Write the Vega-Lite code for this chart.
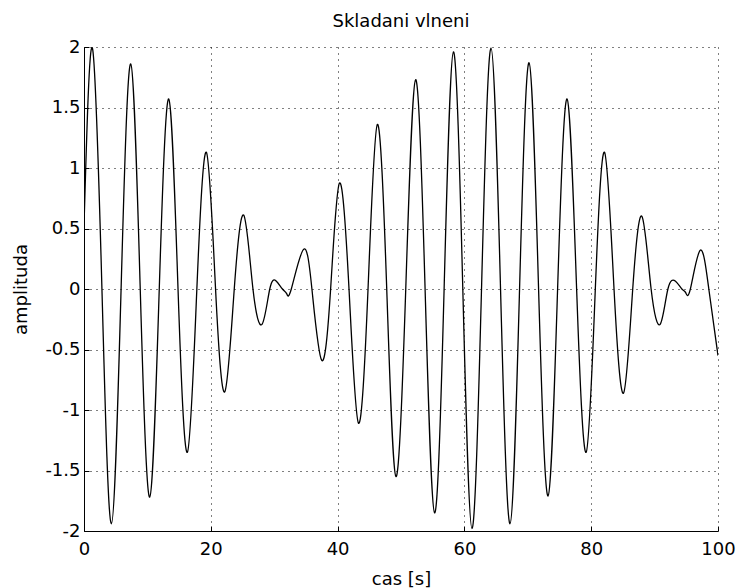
{
  "$schema": "https://vega.github.io/schema/vega-lite/v6.json",
  "width": 634,
  "height": 484,
  "autosize": {"type": "none"},
  "padding": {"left": 84, "top": 47, "right": 19, "bottom": 57},
  "background": "white",
  "config": {
    "view": {"stroke": null},
    "font": "DejaVu Sans",
    "axis": {
      "domainColor": "black",
      "domainWidth": 1,
      "tickColor": "black",
      "tickSize": -5,
      "tickWidth": 1,
      "grid": true,
      "gridColor": "black",
      "gridOpacity": 1,
      "gridDash": [1, 5],
      "gridWidth": 1,
      "labelFont": "DejaVu Sans",
      "labelFontSize": 18,
      "labelColor": "black",
      "labelFlush": false,
      "labelOverlap": false,
      "titleFont": "DejaVu Sans",
      "titleFontSize": 18,
      "titleFontWeight": "normal",
      "titleColor": "black"
    }
  },
  "title": {
    "text": "Skladani vlneni",
    "font": "DejaVu Sans",
    "fontSize": 18,
    "fontWeight": "normal",
    "color": "black",
    "offset": 7
  },
  "data": {
    "values": [
      {"t": 0, "y": 0.52},
      {"t": 1.33, "y": 1.99},
      {"t": 2.83, "y": 0},
      {"t": 4.32, "y": -1.94},
      {"t": 5.85, "y": 0},
      {"t": 7.37, "y": 1.86},
      {"t": 8.87, "y": 0},
      {"t": 10.37, "y": -1.72},
      {"t": 11.87, "y": 0},
      {"t": 13.37, "y": 1.57},
      {"t": 14.83, "y": 0},
      {"t": 16.3, "y": -1.35},
      {"t": 17.8, "y": 0},
      {"t": 19.3, "y": 1.13},
      {"t": 20.75, "y": 0},
      {"t": 22.2, "y": -0.85},
      {"t": 23.7, "y": 0},
      {"t": 25.2, "y": 0.61},
      {"t": 26.65, "y": 0},
      {"t": 28.1, "y": -0.29},
      {"t": 29.3, "y": 0},
      {"t": 30.3, "y": 0.066},
      {"t": 31.3, "y": 0},
      {"t": 31.96, "y": -0.038},
      {"t": 32.7, "y": 0},
      {"t": 34.6, "y": 0.326},
      {"t": 35.95, "y": 0},
      {"t": 37.5, "y": -0.59},
      {"t": 38.9, "y": 0},
      {"t": 40.3, "y": 0.876},
      {"t": 41.8, "y": 0},
      {"t": 43.3, "y": -1.11},
      {"t": 44.8, "y": 0},
      {"t": 46.27, "y": 1.36},
      {"t": 47.75, "y": 0},
      {"t": 49.2, "y": -1.55},
      {"t": 50.75, "y": 0},
      {"t": 52.3, "y": 1.73},
      {"t": 53.8, "y": 0},
      {"t": 55.3, "y": -1.85},
      {"t": 56.8, "y": 0},
      {"t": 58.27, "y": 1.96},
      {"t": 59.75, "y": 0},
      {"t": 61.2, "y": -1.98},
      {"t": 62.7, "y": 0},
      {"t": 64.2, "y": 1.99},
      {"t": 65.7, "y": 0},
      {"t": 67.2, "y": -1.94},
      {"t": 68.7, "y": 0},
      {"t": 70.2, "y": 1.87},
      {"t": 71.7, "y": 0},
      {"t": 73.2, "y": -1.71},
      {"t": 74.7, "y": 0},
      {"t": 76.2, "y": 1.57},
      {"t": 77.7, "y": 0},
      {"t": 79.2, "y": -1.35},
      {"t": 80.65, "y": 0},
      {"t": 82.1, "y": 1.13},
      {"t": 83.6, "y": 0},
      {"t": 85.1, "y": -0.86},
      {"t": 86.55, "y": 0},
      {"t": 88.0, "y": 0.6},
      {"t": 89.45, "y": 0},
      {"t": 90.9, "y": -0.29},
      {"t": 92.1, "y": 0},
      {"t": 93.3, "y": 0.064},
      {"t": 94.3, "y": 0},
      {"t": 94.9, "y": -0.03},
      {"t": 95.64, "y": 0},
      {"t": 97.2, "y": 0.32},
      {"t": 98.55, "y": 0},
      {"t": 100, "y": -0.55}
    ]
  },
  "mark": {"type": "line", "interpolate": "natural", "color": "black", "strokeWidth": 1.3, "clip": true},
  "encoding": {
    "x": {
      "field": "t",
      "type": "quantitative",
      "scale": {"domain": [0, 100], "nice": false, "zero": false},
      "axis": {
        "title": "cas [s]",
        "values": [0, 20, 40, 60, 80, 100],
        "labelExpr": "'' + datum.value",
        "labelPadding": 14,
        "titlePadding": 12
      }
    },
    "y": {
      "field": "y",
      "type": "quantitative",
      "scale": {"domain": [-2, 2], "nice": false, "zero": false},
      "axis": {
        "title": "amplituda",
        "values": [-2, -1.5, -1, -0.5, 0, 0.5, 1, 1.5, 2],
        "labelExpr": "'' + datum.value",
        "labelPadding": 9,
        "titlePadding": 14
      }
    }
  }
}
